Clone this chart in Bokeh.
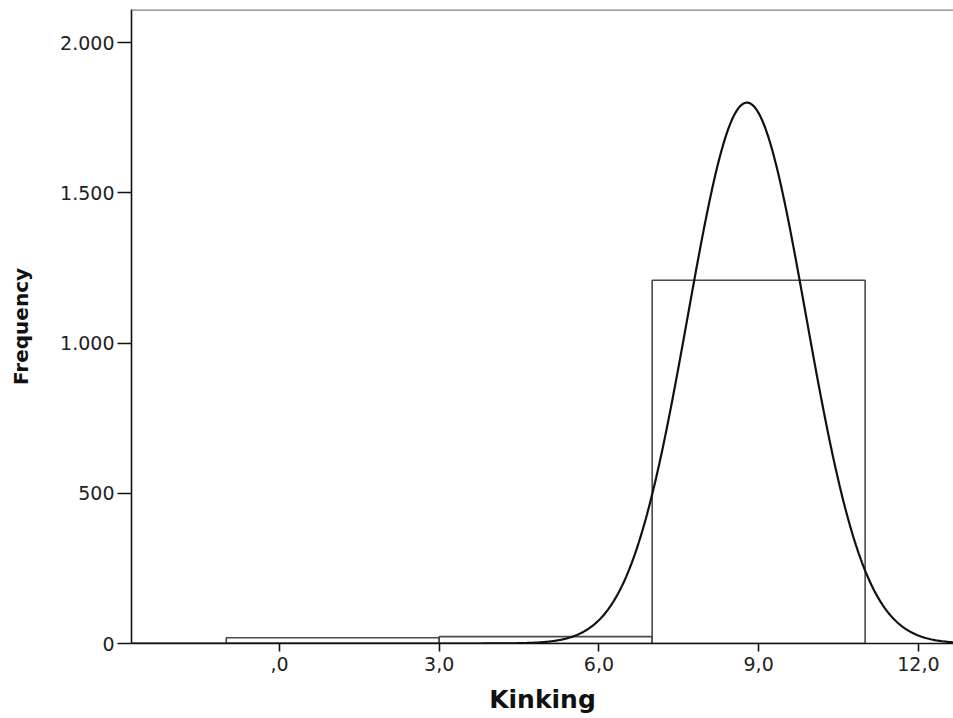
import numpy as np
from bokeh.plotting import figure
from bokeh.models import FixedTicker, Span, Range1d
from bokeh.embed import file_html
from bokeh.resources import INLINE

# Histogram data
bin_left = [-1, 3, 7]
bin_right = [3, 7, 11]
counts = [19, 23, 1209]

# Axis ticks
x_ticks = [0, 3, 6, 9, 12]
x_tick_labels = [",0", "3,0", "6,0", "9,0", "12,0"]
y_ticks = [0, 500, 1000, 1500, 2000]
y_tick_labels = ["0", "500", "1.000", "1.500", "2.000"]

# Fitted normal curve parameters
curve_mean = 8.78
curve_sd = 1.109
bin_width = 4
n_total = sum(counts)

X0, X1 = -2.78, 12.66
Y0, Y1 = 0, 2110

p = figure(width=953, height=718, output_backend="svg", toolbar_location=None,
           x_range=Range1d(X0, X1), y_range=Range1d(Y0, Y1),
           min_border_left=131, min_border_right=0, min_border_top=9,
           min_border_bottom=75)
p.outline_line_color = None
p.xgrid.visible = False
p.ygrid.visible = False
p.background_fill_color = "white"
p.border_fill_color = "white"

p.quad(left=bin_left, right=bin_right, bottom=0, top=counts,
       fill_color="white", line_color="#4a4a4a", line_width=1.6)

xs = np.linspace(X0, X1, 800)
ys = n_total * bin_width / (curve_sd * np.sqrt(2 * np.pi)) * np.exp(-0.5 * ((xs - curve_mean) / curve_sd) ** 2)
p.line(xs, ys, line_color="#111111", line_width=2.2)

p.add_layout(Span(location=Y1, dimension="width", line_color="#808080", line_width=2.5))

for ax in (p.xaxis[0], p.yaxis[0]):
    ax.axis_line_color = "#111111"
    ax.axis_line_width = 1.6
    ax.major_tick_line_color = "#111111"
    ax.major_tick_line_width = 1.6
    ax.minor_tick_line_color = None
    ax.major_tick_in = 0
    ax.major_label_text_font = "DejaVu Sans"
    ax.major_label_text_font_size = "19px"
    ax.major_label_text_color = "#222222"
    ax.axis_label_text_font = "DejaVu Sans"
    ax.axis_label_text_font_style = "bold"
    ax.axis_label_text_color = "#111111"

p.xaxis.ticker = FixedTicker(ticks=x_ticks)
p.xaxis.major_label_overrides = dict(zip(x_ticks, x_tick_labels))
p.xaxis.major_tick_out = 8
p.xaxis.major_label_standoff = 5
p.xaxis.axis_label = "Kinking"
p.xaxis.axis_label_text_font_size = "25px"
p.xaxis.axis_label_standoff = 11

p.yaxis.ticker = FixedTicker(ticks=y_ticks)
p.yaxis.major_label_overrides = dict(zip(y_ticks, y_tick_labels))
p.yaxis.major_tick_out = 14
p.yaxis.major_label_standoff = 3
p.yaxis.major_label_orientation = "horizontal"
p.yaxis.axis_label = "Frequency"
p.yaxis.axis_label_text_font_size = "20px"
p.yaxis.axis_label_standoff = 24

open("out.html", "w").write(file_html(p, INLINE))
